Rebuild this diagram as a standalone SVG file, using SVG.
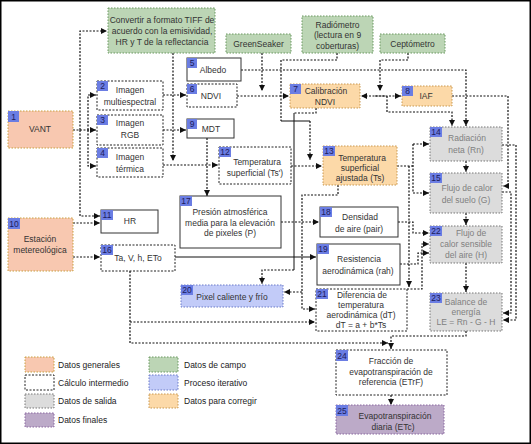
<svg xmlns="http://www.w3.org/2000/svg" width="531" height="444" viewBox="0 0 531 444">
<defs>
<marker id="ah" markerWidth="6" markerHeight="6" refX="6" refY="3" orient="auto" markerUnits="userSpaceOnUse"><path d="M0,0 L6,3 L0,6 z" fill="#111"/></marker>
<style>
.t{font-family:"Liberation Sans",Arial,sans-serif;font-size:8.5px;fill:#333;text-anchor:middle}
.tg{fill:#808080}
.tl{text-anchor:start;fill:#222}
.bn{font-family:"Liberation Sans",Arial,sans-serif;font-size:8.5px;fill:#1c1c5c;text-anchor:middle}
.b{fill:#6b7de3}
.w{fill:#fff;stroke:#222;stroke-dasharray:2 1.5}
.ws{fill:#fff;stroke:#333}
.sal{fill:#f8c8b0;stroke:#c8a040;stroke-dasharray:1.5 1.5}
.grn{fill:#bcd5b5;stroke:#6a9860;stroke-dasharray:1.5 1.5}
.org{fill:#fcd9a8;stroke:#c89850;stroke-dasharray:1.5 1.5}
.gry{fill:#dcdcdc;stroke:#777;stroke-dasharray:1.5 1.5}
.blu{fill:#c2cbf8;stroke:#6a7ac8;stroke-dasharray:1.5 1.5}
.pur{fill:#bcaac8;stroke:#8a68a0;stroke-dasharray:1.5 1.5}
.c{fill:none;stroke:#111;stroke-width:1.2;stroke-dasharray:2 1.5}
.cs{fill:none;stroke:#111;stroke-width:1}
.a{marker-end:url(#ah)}
</style>
</defs>
<rect x="0.75" y="0.75" width="529.5" height="442.5" fill="#fff" stroke="#000" stroke-width="1.5"/>

<g id="connectors">
<path class="c a" d="M73,130 H96"/>
<path class="c a" d="M88,130 V95 H96"/>
<path class="c a" d="M88,130 V166 H96"/>
<path class="c a" d="M80,130 V31 H107"/>
<path class="c a" d="M80,130 V216 H100"/>
<path class="c a" d="M173,53 V161"/>
<path class="c a" d="M163,95 H186"/>
<path class="c a" d="M163,130 H186"/>
<path class="c a" d="M163,165 H218"/>
<path class="c a" d="M262,53 V91"/>
<path class="c a" d="M237,96 H289"/>
<path class="c a" d="M241,70 H466 V126"/>
<path class="c" d="M337,53 V60 H281 V121"/>
<path class="cs" d="M281,121 H310"/>
<path class="c a" d="M310,121 V160"/>
<path class="c a" d="M408,53 V60 H380 V91"/>
<path class="c a" d="M385,96 H361"/>
<path class="c a" d="M375,96 H401"/>
<path class="c a" d="M387,96 V112 H452 V126"/>
<path class="c a" d="M452,96 H508 V186 H503"/>
<path class="c" d="M316,108 V113 H294"/>
<path class="cs" d="M294,113 V270"/>
<path class="c a" d="M294,270 H262 V284"/>
<path class="c a" d="M291,166 H322"/>
<path class="c a" d="M207,138 V196"/>
<path class="c" d="M397,166 H413 M413,144 V193"/>
<path class="c a" d="M413,144 H429"/>
<path class="c a" d="M413,193 H429"/>
<path class="c a" d="M409,166 V287"/>
<path class="c a" d="M338,185 V195 H302 V309 H315"/>
<path class="c a" d="M302,292 H284"/>
<path class="c a" d="M281,222 H319"/>
<path class="cs a" d="M175,257 H316"/>
<path class="c a" d="M130,271 V343 H388"/>
<path class="c a" d="M130,322 H315"/>
<path class="c a" d="M466,331 V336 H391 V349"/>
<path class="c a" d="M391,395 V405"/>
<path class="c a" d="M466,161 V172"/>
<path class="c a" d="M466,213 V225"/>
<path class="c a" d="M466,263 V292"/>
<path class="c a" d="M502,145 H516 V320 H503"/>
<path class="c a" d="M502,192 H511 V313 H503"/>
<path class="c a" d="M398,222 H413 V233 H429"/>
<path class="c a" d="M400,264 H418 V253 H429"/>
<path class="c a" d="M407,289 H422 V244 H429"/>
<path class="c a" d="M73,223 H100"/>
<path class="c a" d="M73,257 H100"/>
</g>

<g id="convertir"><rect class="grn" x="108" y="8" width="107" height="45"/>
<text class="t" x="162" y="23">Convertir a formato TIFF de</text><text class="t" x="162" y="34">acuerdo con la emisividad,</text><text class="t" x="162" y="45">HR y T de la reflectancia</text></g>
<g id="greenseaker"><rect class="grn" x="226" y="34" width="65" height="19"/><text class="t" x="258.5" y="46.5">GreenSeaker</text></g>
<g id="radiometro"><rect class="grn" x="302" y="16" width="71" height="37"/>
<text class="t" x="337.5" y="27.5">Radiómetro</text><text class="t" x="337.5" y="38">(lectura en 9</text><text class="t" x="337.5" y="48.5">coberturas)</text></g>
<g id="ceptometro"><rect class="grn" x="380" y="34" width="65" height="19"/><text class="t" x="412.5" y="46.5">Ceptómetro</text></g>

<g id="n1"><rect class="sal" x="8" y="111" width="65" height="37"/><rect class="b" x="8" y="111" width="11" height="11"/><text class="bn" x="13.5" y="119.5">1</text><text class="t" x="40" y="132">VANT</text></g>
<g id="n2"><rect class="w" x="97" y="81" width="66" height="29"/><rect class="b" x="97" y="81" width="11" height="10"/><text class="bn" x="102.5" y="89">2</text><text class="t" x="130" y="93">Imagen</text><text class="t" x="130" y="105">multiespectral</text></g>
<g id="n3"><rect class="w" x="97" y="115" width="66" height="30"/><rect class="b" x="97" y="115" width="11" height="10"/><text class="bn" x="102.5" y="123">3</text><text class="t" x="130" y="126">Imagen</text><text class="t" x="130" y="138">RGB</text></g>
<g id="n4"><rect class="w" x="97" y="148" width="66" height="29"/><rect class="b" x="97" y="148" width="11" height="10"/><text class="bn" x="102.5" y="156">4</text><text class="t" x="130" y="160">Imagen</text><text class="t" x="130" y="172">térmica</text></g>
<g id="n5"><rect class="ws" x="187" y="58" width="54" height="23"/><rect class="b" x="187" y="58" width="10" height="10"/><text class="bn" x="192" y="66">5</text><text class="t" x="213" y="73">Albedo</text></g>
<g id="n6"><rect class="w" x="187" y="84" width="50" height="23"/><rect class="b" x="187" y="84" width="10" height="10"/><text class="bn" x="192" y="92">6</text><text class="t" x="211" y="99">NDVI</text></g>
<g id="n7"><rect class="org" x="290" y="84" width="70" height="24"/><rect class="b" x="290" y="84" width="11" height="10"/><text class="bn" x="295.5" y="92">7</text><text class="t" x="326" y="94">Calibración</text><text class="t" x="325" y="105">NDVI</text></g>
<g id="n8"><rect class="org" x="402" y="86" width="50" height="20"/><rect class="b" x="402" y="86" width="11" height="10"/><text class="bn" x="407.5" y="94">8</text><text class="t" x="426" y="99">IAF</text></g>
<g id="n9"><rect class="ws" x="187" y="119" width="47" height="19"/><rect class="b" x="187" y="119" width="10" height="10"/><text class="bn" x="192" y="127">9</text><text class="t" x="211" y="132">MDT</text></g>
<g id="n10"><rect class="sal" x="8" y="218" width="65" height="53"/><rect class="b" x="8" y="218" width="12" height="11"/><text class="bn" x="14" y="226.5">10</text><text class="t" x="40" y="242">Estación</text><text class="t" x="40" y="253">metereológica</text></g>
<g id="n11"><rect class="ws" x="101" y="210" width="57" height="23"/><rect class="b" x="101" y="210" width="12" height="10"/><text class="bn" x="107" y="218">11</text><text class="t" x="130" y="224">HR</text></g>
<g id="n12"><rect class="w" x="219" y="147" width="72" height="37"/><rect class="b" x="219" y="147" width="12" height="10"/><text class="bn" x="225" y="155">12</text><text class="t" x="257" y="165">Temperatura</text><text class="t" x="255" y="176">superficial (Ts')</text></g>
<g id="n13"><rect class="org" x="323" y="146" width="74" height="39"/><rect class="b" x="323" y="146" width="12" height="10"/><text class="bn" x="329" y="154">13</text><text class="t" x="362" y="161">Temperatura</text><text class="t" x="360" y="171">superficial</text><text class="t" x="360" y="181">ajustada (Ts)</text></g>
<g id="n14"><rect class="gry" x="430" y="127" width="72" height="34"/><rect class="b" x="430" y="127" width="12" height="10"/><text class="bn" x="436" y="135">14</text><text class="t tg" x="467" y="141">Radiación</text><text class="t tg" x="466" y="153">neta (Rn)</text></g>
<g id="n15"><rect class="gry" x="430" y="173" width="72" height="40"/><rect class="b" x="430" y="173" width="12" height="10"/><text class="bn" x="436" y="181">15</text><text class="t tg" x="467" y="191">Flujo de calor</text><text class="t tg" x="466" y="203">del suelo (G)</text></g>
<g id="n16"><rect class="w" x="101" y="245" width="74" height="26"/><rect class="b" x="101" y="245" width="12" height="10"/><text class="bn" x="107" y="253">16</text><text class="t" x="138" y="261">Ta, V, h, ETo</text></g>
<g id="n17"><rect class="ws" x="180" y="196" width="101" height="52"/><rect class="b" x="180" y="196" width="12" height="10"/><text class="bn" x="186" y="204">17</text><text class="t" x="230" y="215">Presión atmosférica</text><text class="t" x="230" y="226">media para la elevación</text><text class="t" x="230" y="236">de pixeles (P)</text></g>
<g id="n18"><rect class="ws" x="320" y="207" width="78" height="30"/><rect class="b" x="320" y="207" width="12" height="10"/><text class="bn" x="326" y="215">18</text><text class="t" x="360" y="220">Densidad</text><text class="t" x="359" y="232">de aire (pair)</text></g>
<g id="n19"><rect class="ws" x="317" y="244" width="83" height="41"/><rect class="b" x="317" y="244" width="12" height="10"/><text class="bn" x="323" y="252">19</text><text class="t" x="359" y="262">Resistencia</text><text class="t" x="358" y="274">aerodinámica (rah)</text></g>
<g id="n20"><rect class="blu" x="181" y="285" width="102" height="22"/><rect class="b" x="181" y="285" width="12" height="10"/><text class="bn" x="187" y="293">20</text><text class="t" x="232" y="300">Pixel caliente y frío</text></g>
<g id="n21"><rect class="w" x="316" y="289" width="91" height="42"/><rect class="b" x="316" y="289" width="12" height="10"/><text class="bn" x="322" y="297">21</text><text class="t" x="362" y="298">Diferencia de</text><text class="t" x="361" y="308">temperatura</text><text class="t" x="361" y="318">aerodinámica (dT)</text><text class="t" x="361" y="328">dT = a + b*Ts</text></g>
<g id="n22"><rect class="gry" x="430" y="226" width="72" height="37"/><rect class="b" x="430" y="226" width="12" height="10"/><text class="bn" x="436" y="234">22</text><text class="t tg" x="471" y="236">Flujo de</text><text class="t tg" x="466" y="247">calor sensible</text><text class="t tg" x="466" y="258">del aire (H)</text></g>
<g id="n23"><rect class="gry" x="430" y="293" width="72" height="38"/><rect class="b" x="430" y="293" width="12" height="10"/><text class="bn" x="436" y="301">23</text><text class="t tg" x="466" y="305">Balance de</text><text class="t tg" x="466" y="315">energía</text><text class="t tg" x="466" y="325">LE = Rn - G - H</text></g>
<g id="n24"><rect class="w" x="336" y="350" width="111" height="45"/><rect class="b" x="336" y="350" width="12" height="11"/><text class="bn" x="342" y="358.5">24</text><text class="t" x="391" y="364">Fracción de</text><text class="t" x="391" y="374.5">evapotranspiración de</text><text class="t" x="391" y="385">referencia (ETrF)</text></g>
<g id="n25"><rect class="pur" x="336" y="405" width="108" height="29"/><rect class="b" x="336" y="405" width="12" height="11"/><text class="bn" x="342" y="413.5">25</text><text class="t" x="395" y="419">Evapotranspiración</text><text class="t" x="393" y="430">diaria (ETc)</text></g>

<g id="legend">
<rect class="sal" x="25" y="357" width="29" height="15"/><text class="t tl" x="58" y="367.5">Datos generales</text>
<rect class="w" x="25" y="375" width="29" height="15"/><text class="t tl" x="58" y="385.5">Cálculo intermedio</text>
<rect class="gry" x="25" y="394" width="29" height="14"/><text class="t tl" x="58" y="404">Datos de salida</text>
<rect class="pur" x="25" y="413" width="29" height="14"/><text class="t tl" x="58" y="423">Datos finales</text>
<rect class="grn" x="149" y="357" width="29" height="15"/><text class="t tl" x="184" y="367.5">Datos de campo</text>
<rect class="blu" x="149" y="375" width="29" height="15"/><text class="t tl" x="184" y="385.5">Proceso iterativo</text>
<rect class="org" x="149" y="394" width="29" height="14"/><text class="t tl" x="184" y="404">Datos para corregir</text>
</g>
</svg>
